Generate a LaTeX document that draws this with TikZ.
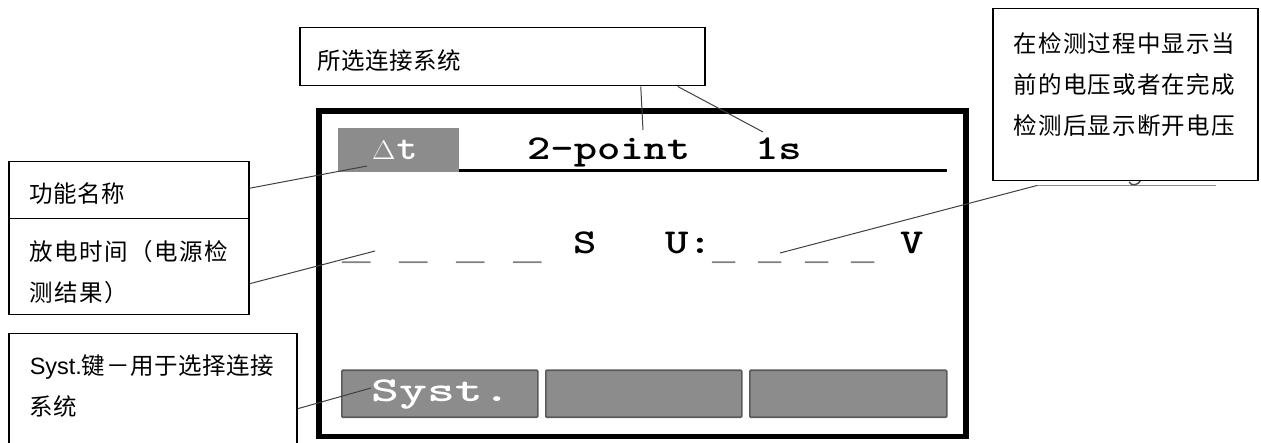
\documentclass[tikz,border=0pt]{standalone}
\usepackage{fontspec}
\setmainfont{Liberation Sans}
\newfontfamily\cjk{Noto Sans CJK SC}
\newfontfamily\dashfont{Liberation Mono}
\definecolor{screengrey}{HTML}{8C8C8C}
\definecolor{btnedge}{HTML}{5A5A5A}
\definecolor{leader}{HTML}{404040}
\newcommand\cjktext[2]{{\cjk\addfontfeature{LetterSpace=#1}#2}}
% width, height, left pad, top pad, content
\newcommand\boxbody[5]{\parbox[c][#2][t]{#1}{\fontsize{23.5}{41}\selectfont\vspace*{#4}\leftskip=#3\parindent=0pt\rightskip=0pt plus 1fil #5\par}}
\newcommand\monotext[2]{\scalebox{#1}[0.92]{\fontsize{38}{38}\selectfont\ttfamily\bfseries #2}}
\newcommand\dashtext[2]{\scalebox{#1}[1]{\fontsize{38}{38}\selectfont\dashfont\bfseries #2}}
\tikzset{
  labelbox/.style={draw=black,line width=1.5pt,fill=white,inner sep=0pt,anchor=north west},
  leaderline/.style={draw=leader,line width=1pt},
  screenframe/.style={draw=black,line width=5.5pt},
  softkey/.style={draw=btnedge,fill=screengrey,line width=1.6pt,rounded corners=1pt,anchor=north west,inner sep=0pt,minimum height=47pt,text=white},
  monolabel/.style={anchor=base west,inner sep=0pt}
}
\begin{document}
\begin{tikzpicture}[x=1pt,y=-1pt]
\useasboundingbox (0,0) rectangle (1261,443);
\clip (0,0) rectangle (1261,443);
\fill[white] (0,0) rectangle (1261,443);
% screen
\node[draw=none,fill=screengrey,anchor=north west,inner sep=0pt,minimum width=121pt,minimum height=44pt] (tab) at (338,128) {};
\node[monolabel,text=white] (tabtxt) at (372,160) {\fontsize{38}{38}\selectfont\scalebox{1.22}[1.08]{$\Delta$}\hspace{1pt}\monotext{1.05}{t}};
\draw[screenframe] (319,111) rectangle (966,436.5);
\coordinate (ruleend) at (947,171);
\draw[line width=3pt] (tab.south east |- ruleend) -- (ruleend);
\node[monolabel] (sysname) at (527,160) {\monotext{1.167}{2-point}};
\node[monolabel] (timeval) at (755,160) {\monotext{1.167}{1s}};
\node[monolabel,text=black!50] (dashes) at (342,259.5) {\dashtext{1.25}{\_ \_ \_ \_}};
\node[monolabel] (unit) at (573,254) {\monotext{1.167}{S}};
\node[monolabel] (volt) at (665,254) {\monotext{1.167}{U:}};
\node[monolabel,text=black!50] (vdashes) at (712,259.5) {\dashtext{1.02}{\_ \_ \_ \_}};
\node[monolabel] (vunit) at (900,254) {\monotext{1.167}{V}};
\node[softkey,minimum width=196pt] (btna) at (341,369.5) {};
\node[monolabel,text=white] (btnatxt) at (371,402) {\monotext{1.4}{Syst.}};
\node[softkey,minimum width=196pt] (btnb) at (545,369.5) {};
\node[softkey,minimum width=197pt] (btnc) at (749,369.5) {};
% residue under the right-hand box
\coordinate (resa) at (1037,185.5);
\coordinate (resb) at (1216,185.5);
\draw[draw=black!45,line width=1.2pt] (resa) -- (resb);
\draw[draw=black!70,line width=1.4pt] (1129,182) .. controls (1131,186) and (1138,186) .. (1141,180);
% label boxes
\node[labelbox,minimum width=405pt,minimum height=58pt] (topbox) at (299,27) {\boxbody{405pt}{58pt}{18pt}{21.5pt}{\cjktext{2}{所选连接系统}}};
\node[labelbox,minimum width=265pt,minimum height=172pt] (rightbox) at (992,8) {\boxbody{265pt}{172pt}{21pt}{23.5pt}{\cjktext{5}{在检测过程中显示当\\前的电压或者在完成\\检测后显示断开电压}}};
\node[labelbox,minimum width=240pt,minimum height=57pt] (funcbox) at (8,161) {\boxbody{240pt}{57pt}{21pt}{20.5pt}{\cjktext{2}{功能名称}}};
\node[labelbox,minimum width=240pt,minimum height=96pt] (timebox) at (8,218) {\boxbody{240pt}{96pt}{21pt}{21.5pt}{\cjktext{6.4}{放电时间（电源检\\测结果）}}};
\node[labelbox,minimum width=288pt,minimum height=140pt] (systbox) at (8,333) {\boxbody{288pt}{140pt}{21pt}{20.5pt}{Syst.\cjktext{2.5}{键－用于选择连接}\\\cjktext{2.5}{系统}}};
% leaders
\coordinate (to2p) at (643,130);
\coordinate (to1s) at (763,132);
\coordinate (todt) at (367,166);
\coordinate (todash) at (375,251);
\coordinate (tosyst) at (371,388);
\coordinate (tou) at (780,253);
\draw[leaderline] ([xshift=138.5pt]topbox.south) -- (to2p);
\draw[leaderline] ([xshift=175.5pt]topbox.south) -- (to1s);
\draw[leaderline] ([yshift=2pt]funcbox.east) -- (todt);
\draw[leaderline] ([yshift=-17pt]timebox.east) -- (todash);
\draw[leaderline] ([yshift=-5pt]systbox.east) -- (tosyst);
\draw[leaderline] (resa) -- (tou);
\end{tikzpicture}
\end{document}
